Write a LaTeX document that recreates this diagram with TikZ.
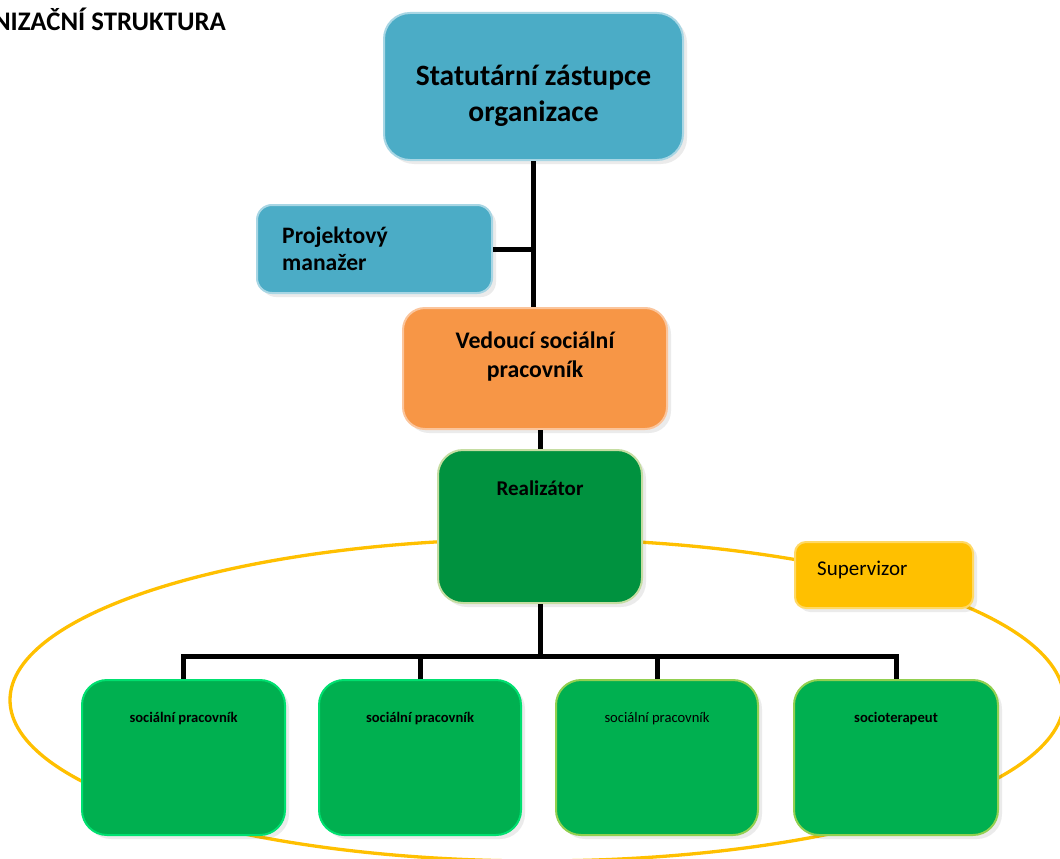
\documentclass[tikz,border=0pt]{standalone}
\usepackage{fontspec}
\setmainfont{Carlito}
\usetikzlibrary{shadows}
\definecolor{blueF}{HTML}{4BACC6}
\definecolor{blueB}{HTML}{A8D6E4}
\definecolor{orangeF}{HTML}{F79646}
\definecolor{orangeB}{HTML}{FBC59C}
\definecolor{dgreenF}{HTML}{00923F}
\definecolor{dgreenB}{HTML}{C5DDA2}
\definecolor{greenF}{HTML}{00B050}
\definecolor{greenB}{HTML}{00E070}
\definecolor{greenC}{HTML}{92D050}
\definecolor{yellowF}{HTML}{FFC000}
\definecolor{yellowB}{HTML}{FFD966}
\begin{document}
\begin{tikzpicture}[x=1pt,y=-1pt,
  box/.style={rectangle, line width=2pt, inner sep=0pt, rounded corners=24pt,
    drop shadow={shadow xshift=4pt, shadow yshift=-4pt, fill=black, opacity=0.08}},
  conn/.style={draw=black, line width=5pt, line join=miter},
  ring/.style={draw=yellowF, line width=3.3pt},
  txt/.style={inner sep=0pt, text=black}
]
\useasboundingbox (0,0) rectangle (1060,859);
\clip (0,0) rectangle (1060,859);
\fill[white] (0,0) rectangle (1060,859);

% title (cut at the left edge)
\node[txt, anchor=base east, font=\fontsize{26.8}{32}\selectfont\bfseries] (title) at (226,31) {ORGANIZAČNÍ STRUKTURA};

% yellow ring
\draw[ring] (537,700) ellipse [x radius=527, y radius=161];

% boxes
\node[box, fill=blueF, draw=blueB, minimum width=299pt, minimum height=147pt, rounded corners=26pt] (stat) at (533.5,86.5) {};
\node[box, fill=blueF, draw=blueB, minimum width=235pt, minimum height=88pt, rounded corners=15pt] (proj) at (374.5,249) {};
\node[box, fill=orangeF, draw=orangeB, minimum width=264pt, minimum height=121pt, rounded corners=22pt] (ved) at (535,368.5) {};
\node[box, fill=dgreenF, draw=dgreenB, minimum width=204pt, minimum height=153pt, rounded corners=25pt] (real) at (540,526.5) {};
\node[box, fill=yellowF, draw=yellowB, minimum width=178pt, minimum height=66pt, rounded corners=11pt] (sup) at (884,575) {};
\node[box, fill=greenF, draw=greenB, minimum width=203pt, minimum height=155pt, rounded corners=25pt] (b1) at (183.5,757.5) {};
\node[box, fill=greenF, draw=greenB, minimum width=202pt, minimum height=155pt, rounded corners=25pt] (b2) at (420,757.5) {};
\node[box, fill=greenF, draw=greenC, minimum width=202pt, minimum height=155pt, rounded corners=25pt] (b3) at (657,757.5) {};
\node[box, fill=greenF, draw=greenC, minimum width=204pt, minimum height=155pt, rounded corners=25pt] (b4) at (896,757.5) {};

% texts
\node[txt, anchor=base, font=\fontsize{29.5}{35}\selectfont\bfseries] (statA) at (533.5,85) {Statutární zástupce};
\node[txt, anchor=base, font=\fontsize{29.5}{35}\selectfont\bfseries] (statB) at (533.5,121) {organizace};
\node[txt, anchor=base west, font=\fontsize{23.6}{28}\selectfont\bfseries] (projA) at (282,243) {Projektový};
\node[txt, anchor=base west, font=\fontsize{23.6}{28}\selectfont\bfseries] (projB) at (282,270) {manažer};
\node[txt, anchor=base, font=\fontsize{23.8}{29}\selectfont\bfseries] (vedA) at (535,348) {Vedoucí sociální};
\node[txt, anchor=base, font=\fontsize{23.8}{29}\selectfont\bfseries] (vedB) at (535,377) {pracovník};
\node[txt, anchor=base, font=\fontsize{21}{25}\selectfont\bfseries] (realT) at (540,495) {Realizátor};
\node[txt, anchor=base west, font=\fontsize{21}{25}\selectfont] (supT) at (817,575) {Supervizor};
\node[txt, anchor=base, font=\fontsize{14.6}{17}\selectfont\bfseries] (b1T) at (183.5,722) {sociální pracovník};
\node[txt, anchor=base, font=\fontsize{14.6}{17}\selectfont\bfseries] (b2T) at (420,722) {sociální pracovník};
\node[txt, anchor=base, font=\fontsize{14.6}{17}\selectfont] (b3T) at (657,722) {sociální pracovník};
\node[txt, anchor=base, font=\fontsize{14.6}{17}\selectfont\bfseries] (b4T) at (896,722) {socioterapeut};

% connectors
\coordinate (bar) at (540,656);
\draw[conn] (stat.south) -- (stat.south |- ved.north);
\draw[conn] (proj.east) -- (proj.east -| stat.south);
\draw[conn] (real.north |- ved.south) -- (real.north);
\draw[conn] (real.south) -- (bar);
\draw[conn] (b1.north) |- (bar) -| (b4.north);
\draw[conn] (b2.north) -- (b2.north |- bar);
\draw[conn] (b3.north) -- (b3.north |- bar);
\end{tikzpicture}
\end{document}
